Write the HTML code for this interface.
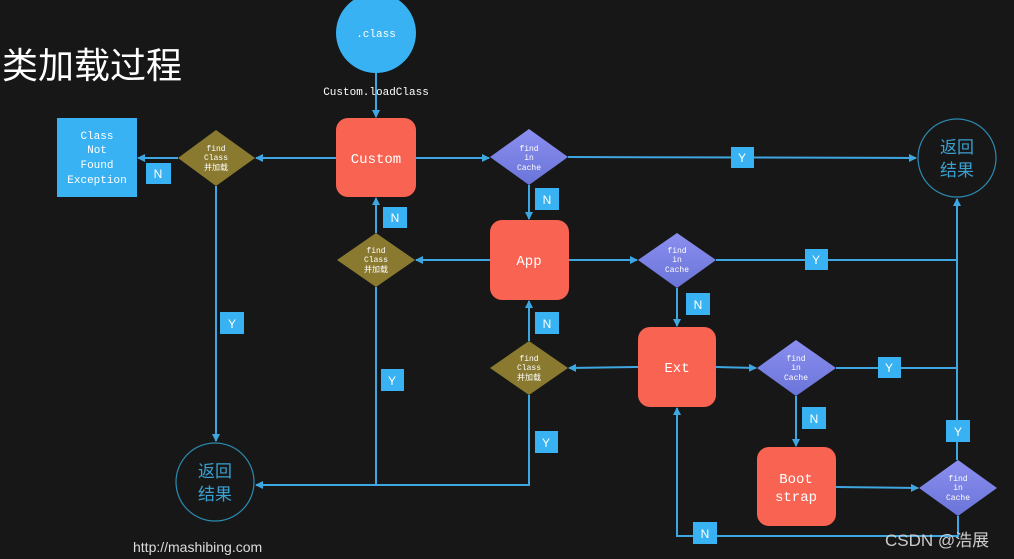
<!DOCTYPE html>
<html><head><meta charset="utf-8"><style>
html,body{margin:0;padding:0;background:#161616;}
svg{display:block}
.m{font-family:"Liberation Mono",monospace;fill:#fff;}
.s{font-family:"Liberation Sans","Noto Sans CJK SC",sans-serif;}
</style></head><body>
<svg width="1014" height="559" viewBox="0 0 1014 559" xmlns="http://www.w3.org/2000/svg">
<defs>
<marker id="a" markerWidth="8" markerHeight="8" refX="7" refY="4" orient="auto" markerUnits="userSpaceOnUse"><path d="M0,0 L8,4 L0,8 z" fill="#3ea6e0"/></marker>
<linearGradient id="p" x1="0" y1="0" x2="0" y2="1"><stop offset="0" stop-color="#8b8ff0"/><stop offset="1" stop-color="#6a74d8"/></linearGradient>
</defs>
<rect width="1014" height="559" fill="#171717"/>
<text x="2" y="78" class="s" font-size="36" fill="#fff">类加载过程</text>

<g stroke="#3ea6e0" stroke-width="2" fill="none">
<line x1="376" y1="72" x2="376" y2="117" marker-end="url(#a)"/>
<line x1="416" y1="158" x2="489" y2="158" marker-end="url(#a)"/>
<line x1="568" y1="157" x2="916" y2="158" marker-end="url(#a)"/>
<line x1="529" y1="185" x2="529" y2="219" marker-end="url(#a)"/>
<line x1="569" y1="260" x2="637" y2="260" marker-end="url(#a)"/>
<line x1="716" y1="260" x2="957" y2="260"/>
<line x1="677" y1="288" x2="677" y2="326" marker-end="url(#a)"/>
<line x1="716" y1="367" x2="756" y2="368" marker-end="url(#a)"/>
<line x1="836" y1="368" x2="957" y2="368"/>
<line x1="796" y1="396" x2="796" y2="446" marker-end="url(#a)"/>
<line x1="836" y1="487" x2="918" y2="488" marker-end="url(#a)"/>
<line x1="957" y1="460" x2="957" y2="199" marker-end="url(#a)"/>
<polyline points="958,516 958,536 677,536 677,408" marker-end="url(#a)"/>
<line x1="638" y1="367" x2="569" y2="368" marker-end="url(#a)"/>
<line x1="529" y1="341" x2="529" y2="301" marker-end="url(#a)"/>
<polyline points="529,395 529,485 256,485" marker-end="url(#a)"/>
<line x1="490" y1="260" x2="416" y2="260" marker-end="url(#a)"/>
<line x1="376" y1="233" x2="376" y2="198" marker-end="url(#a)"/>
<line x1="376" y1="287" x2="376" y2="485"/>
<line x1="336" y1="158" x2="256" y2="158" marker-end="url(#a)"/>
<line x1="178" y1="158" x2="138" y2="158" marker-end="url(#a)"/>
<line x1="216" y1="186" x2="216" y2="441" marker-end="url(#a)"/>
</g>

<circle cx="376" cy="33" r="40" fill="#38b2f2"/>
<text x="376" y="37" class="m" font-size="11" text-anchor="middle">.class</text>
<text x="376" y="95" class="m" font-size="11" text-anchor="middle" fill="#eee">Custom.loadClass</text>

<g fill="#f96352">
<rect x="336" y="118" width="80" height="79" rx="12"/>
<rect x="490" y="220" width="79" height="80" rx="12"/>
<rect x="638" y="327" width="78" height="80" rx="12"/>
<rect x="757" y="447" width="79" height="79" rx="12"/>
</g>
<g class="m" font-size="14" text-anchor="middle">
<text x="376" y="163">Custom</text>
<text x="529" y="265">App</text>
<text x="677" y="372">Ext</text>
<text x="796" y="483">Boot</text>
<text x="796" y="501">strap</text>
</g>

<g fill="url(#p)">
<polygon points="490,157 529,129 568,157 529,185"/>
<polygon points="638,260 677,233 716,260 677,288"/>
<polygon points="757,368 796,340 836,368 796,396"/>
<polygon points="919,488 958,460 997,488 958,516"/>
</g>
<g fill="#8a7a30">
<polygon points="178,158 216,130 255,158 216,186"/>
<polygon points="337,260 376,233 415,260 376,287"/>
<polygon points="490,368 529,341 568,368 529,395"/>
</g>
<g class="m" font-size="8" text-anchor="middle">
<text x="529" y="151">find</text><text x="529" y="160">in</text><text x="529" y="170">Cache</text>
<text x="677" y="253">find</text><text x="677" y="262">in</text><text x="677" y="272">Cache</text>
<text x="796" y="361">find</text><text x="796" y="370">in</text><text x="796" y="380">Cache</text>
<text x="958" y="481">find</text><text x="958" y="490">in</text><text x="958" y="500">Cache</text>
<text x="216" y="151">find</text><text x="216" y="160">Class</text><text x="216" y="170" class="s">并加载</text>
<text x="376" y="253">find</text><text x="376" y="262">Class</text><text x="376" y="272" class="s">并加载</text>
<text x="529" y="361">find</text><text x="529" y="370">Class</text><text x="529" y="380" class="s">并加载</text>
</g>

<rect x="57" y="118" width="80" height="79" fill="#38b2f2"/>
<g class="m" font-size="11" text-anchor="middle">
<text x="97" y="139">Class</text><text x="97" y="153">Not</text><text x="97" y="168">Found</text><text x="97" y="183">Exception</text>
</g>

<circle cx="957" cy="158" r="39" fill="none" stroke="#2a8bb0" stroke-width="1.2"/>
<text x="957" y="153" class="s" font-size="17" fill="#3aa0d0" text-anchor="middle">返回</text>
<text x="957" y="176" class="s" font-size="17" fill="#3aa0d0" text-anchor="middle">结果</text>
<circle cx="215" cy="482" r="39" fill="none" stroke="#2a8bb0" stroke-width="1.2"/>
<text x="215" y="477" class="s" font-size="17" fill="#3aa0d0" text-anchor="middle">返回</text>
<text x="215" y="500" class="s" font-size="17" fill="#3aa0d0" text-anchor="middle">结果</text>

<g fill="#38b2f2">
<rect x="731" y="147" width="23" height="21"/>
<rect x="805" y="249" width="23" height="21"/>
<rect x="878" y="357" width="23" height="21"/>
<rect x="946" y="420" width="24" height="22"/>
<rect x="535" y="188" width="24" height="22"/>
<rect x="686" y="293" width="24" height="22"/>
<rect x="802" y="407" width="24" height="22"/>
<rect x="693" y="522" width="24" height="22"/>
<rect x="535" y="312" width="24" height="22"/>
<rect x="535" y="431" width="23" height="22"/>
<rect x="383" y="207" width="24" height="21"/>
<rect x="381" y="369" width="23" height="22"/>
<rect x="146" y="163" width="25" height="21"/>
<rect x="220" y="312" width="24" height="22"/>
</g>
<g class="s" font-size="12" fill="#fff" text-anchor="middle">
<text x="742" y="162">Y</text><text x="816" y="264">Y</text><text x="889" y="372">Y</text><text x="958" y="436">Y</text>
<text x="547" y="204">N</text><text x="698" y="309">N</text><text x="814" y="423">N</text><text x="705" y="538">N</text>
<text x="547" y="328">N</text><text x="546" y="447">Y</text><text x="395" y="222">N</text><text x="392" y="385">Y</text>
<text x="158" y="178">N</text><text x="232" y="328">Y</text>
</g>

<text x="133" y="552" class="s" font-size="14" fill="#ddd">http://mashibing.com</text>
<text x="885" y="546" class="s" font-size="17" fill="#ccc">CSDN @浩展</text>
</svg>
</body></html>
